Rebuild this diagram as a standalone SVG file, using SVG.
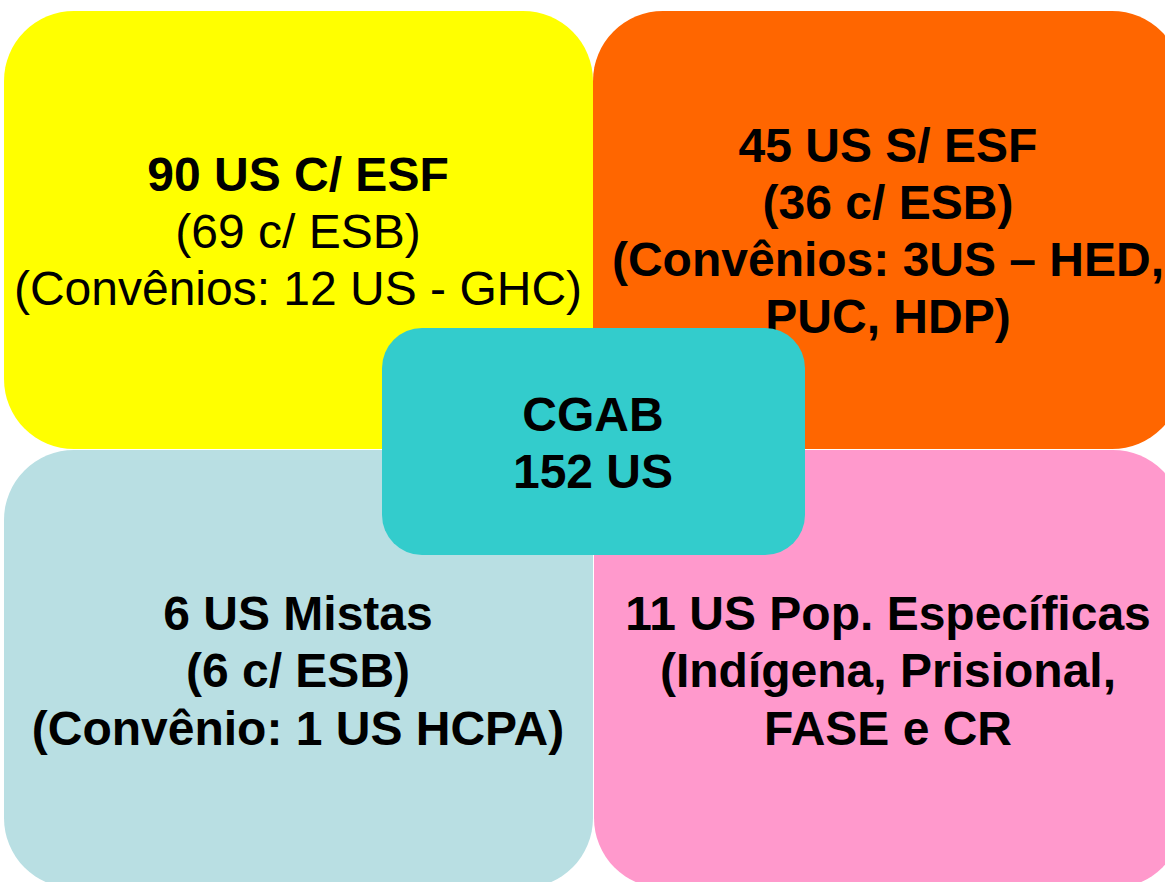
<svg xmlns="http://www.w3.org/2000/svg" width="1165" height="882" viewBox="0 0 1165 882">
<style>
text{font-family:"Liberation Sans",Arial,sans-serif;font-size:48px;fill:#000;text-anchor:middle}
.b{font-weight:bold}
</style>
<rect width="1165" height="882" fill="#fff"/>
<g id="q-yellow">
<rect x="4" y="11" width="589" height="438" rx="70" ry="70" fill="#FFFF00"/>
<text class="b" x="298" y="191">90 US C/ ESF</text>
<text x="298" y="248">(69 c/ ESB)</text>
<text x="298" y="305">(Convênios: 12 US - GHC)</text>
</g>
<g id="q-orange">
<rect x="593" y="11" width="589" height="438" rx="70" ry="70" fill="#FF6600"/>
<text class="b" x="888" y="162">45 US S/ ESF</text>
<text class="b" x="888" y="219">(36 c/ ESB)</text>
<text class="b" x="888" y="276">(Convênios: 3US – HED,</text>
<text class="b" x="888" y="333">PUC, HDP)</text>
</g>
<g id="q-blue">
<rect x="4" y="450" width="589" height="438" rx="70" ry="70" fill="#B9DFE3"/>
<text class="b" x="298" y="630">6 US Mistas</text>
<text class="b" x="298" y="687">(6 c/ ESB)</text>
<text class="b" x="298" y="745">(Convênio: 1 US HCPA)</text>
</g>
<g id="q-pink">
<rect x="594" y="450" width="589" height="438" rx="70" ry="70" fill="#FF99CC"/>
<text class="b" x="888" y="630">11 US Pop. Específicas</text>
<text class="b" x="888" y="687">(Indígena, Prisional,</text>
<text class="b" x="888" y="745">FASE e CR</text>
</g>
<g id="connectors"></g>
<g id="center">
<rect x="382" y="328" width="423" height="227" rx="40" ry="40" fill="#33CCCC"/>
<text class="b" x="593" y="431">CGAB</text>
<text class="b" x="593" y="488">152 US</text>
</g>
</svg>
